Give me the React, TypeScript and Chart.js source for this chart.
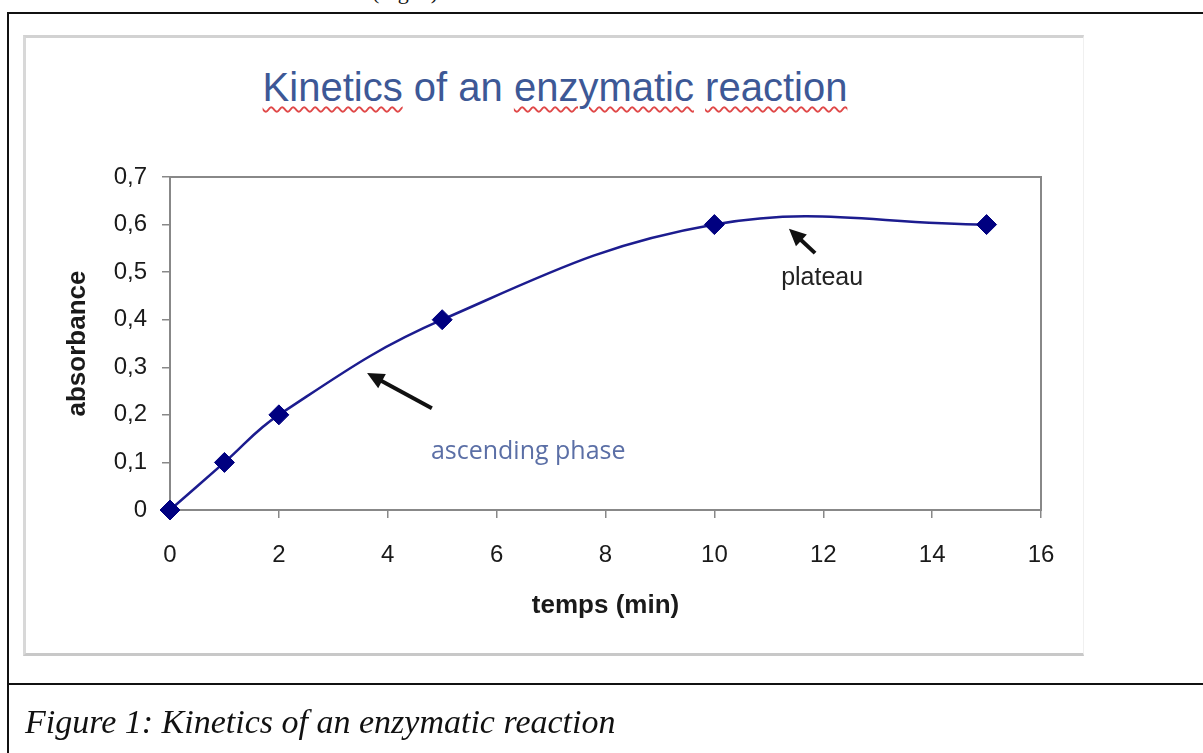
import React, { useEffect, useRef } from 'react';
import { Chart, registerables } from 'chart.js';

Chart.register(...registerables);

// ---- data ----
const times = [0, 1, 2, 5, 10, 15];
const absorbance = [0, 0.1, 0.2, 0.4, 0.6, 0.6];
const xTickValues = [0, 2, 4, 6, 8, 10, 12, 14, 16];
const yTickValues = [0, 0.1, 0.2, 0.3, 0.4, 0.5, 0.6, 0.7];
const yTickLabels = ['0', '0,1', '0,2', '0,3', '0,4', '0,5', '0,6', '0,7'];
const titleWords = ['Kinetics', ' of an ', 'enzymatic', ' ', 'reaction'];
const titleMisspelled = [true, false, true, false, true];
const xTitle = 'temps (min)';
const yTitle = 'absorbance';
const captionText = 'Figure 1: Kinetics of an enzymatic reaction';
const topCutText = '(Fig. 1)';

// annotations (data coordinates)
const arrowAscending = { fromX: 4.81, fromY: 0.214, toX: 3.62, toY: 0.288 };
const arrowPlateau = { fromX: 11.85, fromY: 0.54, toX: 11.37, toY: 0.591 };
const labelPlateau = { text: 'plateau', x: 11.98, y: 0.488 };
const labelAscending = { text: 'ascending phase', x: 6.58, y: 0.122 };

const AXIS_GRAY = '#888888';
const SANS = '"Liberation Sans", Arial, sans-serif';

const notesPlugin = {
  id: 'notes',
  beforeDatasetsDraw(chart: any) {
    const { ctx, chartArea } = chart;
    ctx.save();
    ctx.strokeStyle = AXIS_GRAY;
    ctx.lineWidth = 2;
    ctx.strokeRect(chartArea.left, chartArea.top, chartArea.right - chartArea.left, chartArea.bottom - chartArea.top);
    ctx.restore();
  },
  afterDatasetsDraw(chart: any) {
    const { ctx, scales } = chart;
    const xs = scales.x;
    const ys = scales.y;
    const drawArrow = (a: any) => {
      const x1 = xs.getPixelForValue(a.fromX);
      const y1 = ys.getPixelForValue(a.fromY);
      const x2 = xs.getPixelForValue(a.toX);
      const y2 = ys.getPixelForValue(a.toY);
      const ang = Math.atan2(y2 - y1, x2 - x1);
      const headLen = 17;
      const headW = 8;
      const bx = x2 - headLen * Math.cos(ang);
      const by = y2 - headLen * Math.sin(ang);
      ctx.save();
      ctx.strokeStyle = '#111';
      ctx.fillStyle = '#111';
      ctx.lineWidth = 4;
      ctx.beginPath();
      ctx.moveTo(x1, y1);
      ctx.lineTo(bx + 2 * Math.cos(ang), by + 2 * Math.sin(ang));
      ctx.stroke();
      ctx.beginPath();
      ctx.moveTo(x2, y2);
      ctx.lineTo(bx + headW * Math.sin(ang), by - headW * Math.cos(ang));
      ctx.lineTo(bx - headW * Math.sin(ang), by + headW * Math.cos(ang));
      ctx.closePath();
      ctx.fill();
      ctx.restore();
    };
    drawArrow(arrowAscending);
    drawArrow(arrowPlateau);
    ctx.save();
    ctx.textAlign = 'center';
    ctx.textBaseline = 'middle';
    ctx.fillStyle = '#222';
    ctx.font = '25px ' + SANS;
    ctx.fillText(labelPlateau.text, xs.getPixelForValue(labelPlateau.x), ys.getPixelForValue(labelPlateau.y));
    ctx.fillStyle = '#5b6fa6';
    ctx.font = '25px "Open Sans", sans-serif';
    ctx.fillText(labelAscending.text, xs.getPixelForValue(labelAscending.x), ys.getPixelForValue(labelAscending.y));
    ctx.restore();
  },
};

function ChartCanvas() {
  const ref = useRef<HTMLCanvasElement | null>(null);
  useEffect(() => {
    if (!ref.current) return;
    const chart = new Chart(ref.current, {
      type: 'line',
      data: {
        datasets: [
          {
            data: times.map((t, i) => ({ x: t, y: absorbance[i] })),
            borderColor: '#1c1c8f',
            borderWidth: 2.5,
            tension: 0.4,
            pointStyle: 'rectRot',
            pointRadius: 10,
            pointBackgroundColor: '#000080',
            pointBorderColor: '#000080',
            pointBorderWidth: 1,
            fill: false,
            clip: false,
          } as any,
        ],
      },
      options: {
        responsive: false,
        animation: false,
        events: [],
        layout: { padding: { top: 177, right: 162, left: 0, bottom: 0 } },
        plugins: { legend: { display: false }, tooltip: { enabled: false }, title: { display: false } },
        scales: {
          x: {
            type: 'linear',
            min: 0,
            max: 16,
            afterFit: (s: any) => {
              s.height = 243;
            },
            afterBuildTicks: (s: any) => {
              s.ticks = xTickValues.map((v) => ({ value: v }));
            },
            ticks: {
              padding: 23,
              color: '#1a1a1a',
              font: { family: SANS, size: 24 },
              callback: (v: any) => String(v),
            },
            grid: { display: true, drawOnChartArea: false, drawTicks: true, tickLength: 8, color: AXIS_GRAY, lineWidth: 1.5 },
            border: { display: true, color: AXIS_GRAY, width: 2 },
            title: {
              display: true,
              text: xTitle,
              color: '#1a1a1a',
              font: { family: SANS, size: 26, weight: 'bold' },
              padding: { top: 0, bottom: 132 },
            },
          },
          y: {
            type: 'linear',
            min: 0,
            max: 0.7,
            afterFit: (s: any) => {
              s.width = 170;
            },
            afterBuildTicks: (s: any) => {
              s.ticks = yTickValues.map((v) => ({ value: v }));
            },
            ticks: {
              padding: 15,
              color: '#1a1a1a',
              font: { family: SANS, size: 24 },
              callback: (_v: any, i: number) => yTickLabels[i],
            },
            grid: { display: true, drawOnChartArea: false, drawTicks: true, tickLength: 8, color: AXIS_GRAY, lineWidth: 1.5 },
            border: { display: true, color: AXIS_GRAY, width: 2 },
            title: {
              display: true,
              text: yTitle,
              color: '#1a1a1a',
              font: { family: SANS, size: 26, weight: 'bold' },
              padding: { top: 62, bottom: 0 },
            },
          },
        },
      } as any,
      plugins: [notesPlugin],
    });
    return () => chart.destroy();
  }, []);
  return (
    <canvas
      ref={ref}
      width={1203}
      height={753}
      style={{ position: 'fixed', left: 0, top: 0, width: 1203, height: 753 }}
    />
  );
}

export default function App() {
  return (
    <div style={{ position: 'fixed', left: 0, top: 0, width: 1203, height: 753, overflow: 'hidden', background: '#fff' }}>
      <div
        style={{
          position: 'absolute',
          left: 372,
          top: -19,
          fontFamily: '"Liberation Serif", serif',
          fontSize: 22,
          lineHeight: 1,
          color: '#111',
          whiteSpace: 'nowrap',
        }}
      >
        {topCutText}
      </div>
      <div
        style={{
          position: 'absolute',
          left: 7,
          top: 12,
          width: 1400,
          height: 669,
          border: '2px solid #111',
          boxSizing: 'content-box',
        }}
      />
      <div
        style={{
          position: 'absolute',
          left: 7,
          top: 683,
          width: 1400,
          height: 200,
          borderLeft: '2px solid #111',
        }}
      />
      <div
        style={{
          position: 'absolute',
          left: 23,
          top: 35,
          width: 1057,
          height: 615,
          borderTop: '3px solid #d2d2d2',
          borderLeft: '3px solid #d8d8d8',
          borderBottom: '3px solid #c8c8c8',
          borderRight: '1px solid #f0f0f0',
        }}
      />
      <div
        style={{
          position: 'absolute',
          left: 555,
          top: 67,
          transform: 'translateX(-50%)',
          fontFamily: SANS,
          fontSize: 40,
          lineHeight: '40px',
          color: '#3d5896',
          whiteSpace: 'nowrap',
        }}
      >
        {titleWords.map((w, i) => (
          <span
            key={i}
            style={
              titleMisspelled[i]
                ? {
                    textDecorationLine: 'underline',
                    textDecorationStyle: 'wavy',
                    textDecorationColor: '#e04848',
                    textDecorationThickness: '1.5px',
                    textUnderlineOffset: '5px',
                  }
                : undefined
            }
          >
            {w}
          </span>
        ))}
      </div>
      <ChartCanvas />
      <div
        style={{
          position: 'absolute',
          left: 25,
          top: 705,
          fontFamily: '"Liberation Serif", serif',
          fontStyle: 'italic',
          fontSize: 34,
          lineHeight: 1,
          color: '#111',
          whiteSpace: 'nowrap',
        }}
      >
        {captionText}
      </div>
    </div>
  );
}
